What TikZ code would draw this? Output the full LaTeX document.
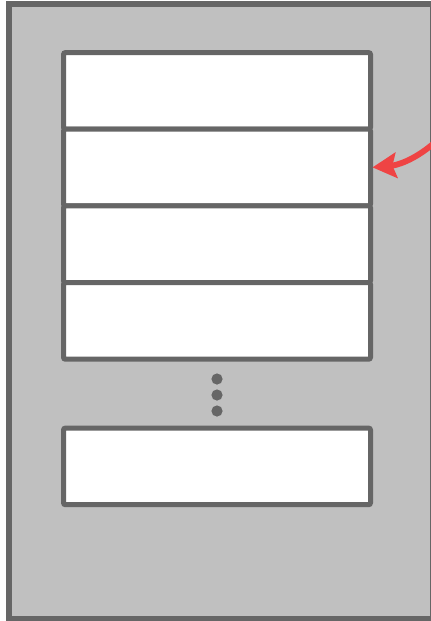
\documentclass[tikz,border=0pt]{standalone}
\usetikzlibrary{positioning,arrows.meta}

\definecolor{edgegray}{HTML}{666666}
\definecolor{fillgray}{HTML}{C0C0C0}
\definecolor{arrowred}{HTML}{EF4444}

\begin{document}
\begin{tikzpicture}[
        x=0.75pt, y=-0.75pt,
        frame/.style={draw=edgegray, fill=fillgray, line width=4.1pt},
        slot/.style={rectangle, rounded corners=1.5pt, draw=edgegray, fill=white,
            line width=3.75pt, minimum width=230.25pt, minimum height=57.5pt,
            outer sep=0pt, inner sep=0pt},
        dot/.style={circle, fill=edgegray, inner sep=0pt, minimum size=8.4pt},
        arr/.style={-{Stealth[length=18pt, width=19pt, inset=3pt]}, line width=4.4pt,
            draw=arrowred, shorten >=1.5pt}
    ]
    \useasboundingbox (0,0) rectangle (430,621);
    \draw[frame] (9,4) rectangle (433,618.5);

    % stacked slots
    \node[slot] (slot1) at (217,90.9) {};
    \node[slot, below=0pt of slot1] (slot2) {};
    \node[slot, below=0pt of slot2] (slot3) {};
    \node[slot, below=0pt of slot3] (slot4) {};

    \foreach \y [count=\i] in {379,395,411}
        \node[dot] (dot\i) at (217,\y) {};

    \node[slot] (slotn) at (217,466.4) {};

    % incoming pointer
    \coordinate (src) at (433,144);
    \draw[arr] (src) to[out=220, in=5] (slot2.east);
\end{tikzpicture}
\end{document}
